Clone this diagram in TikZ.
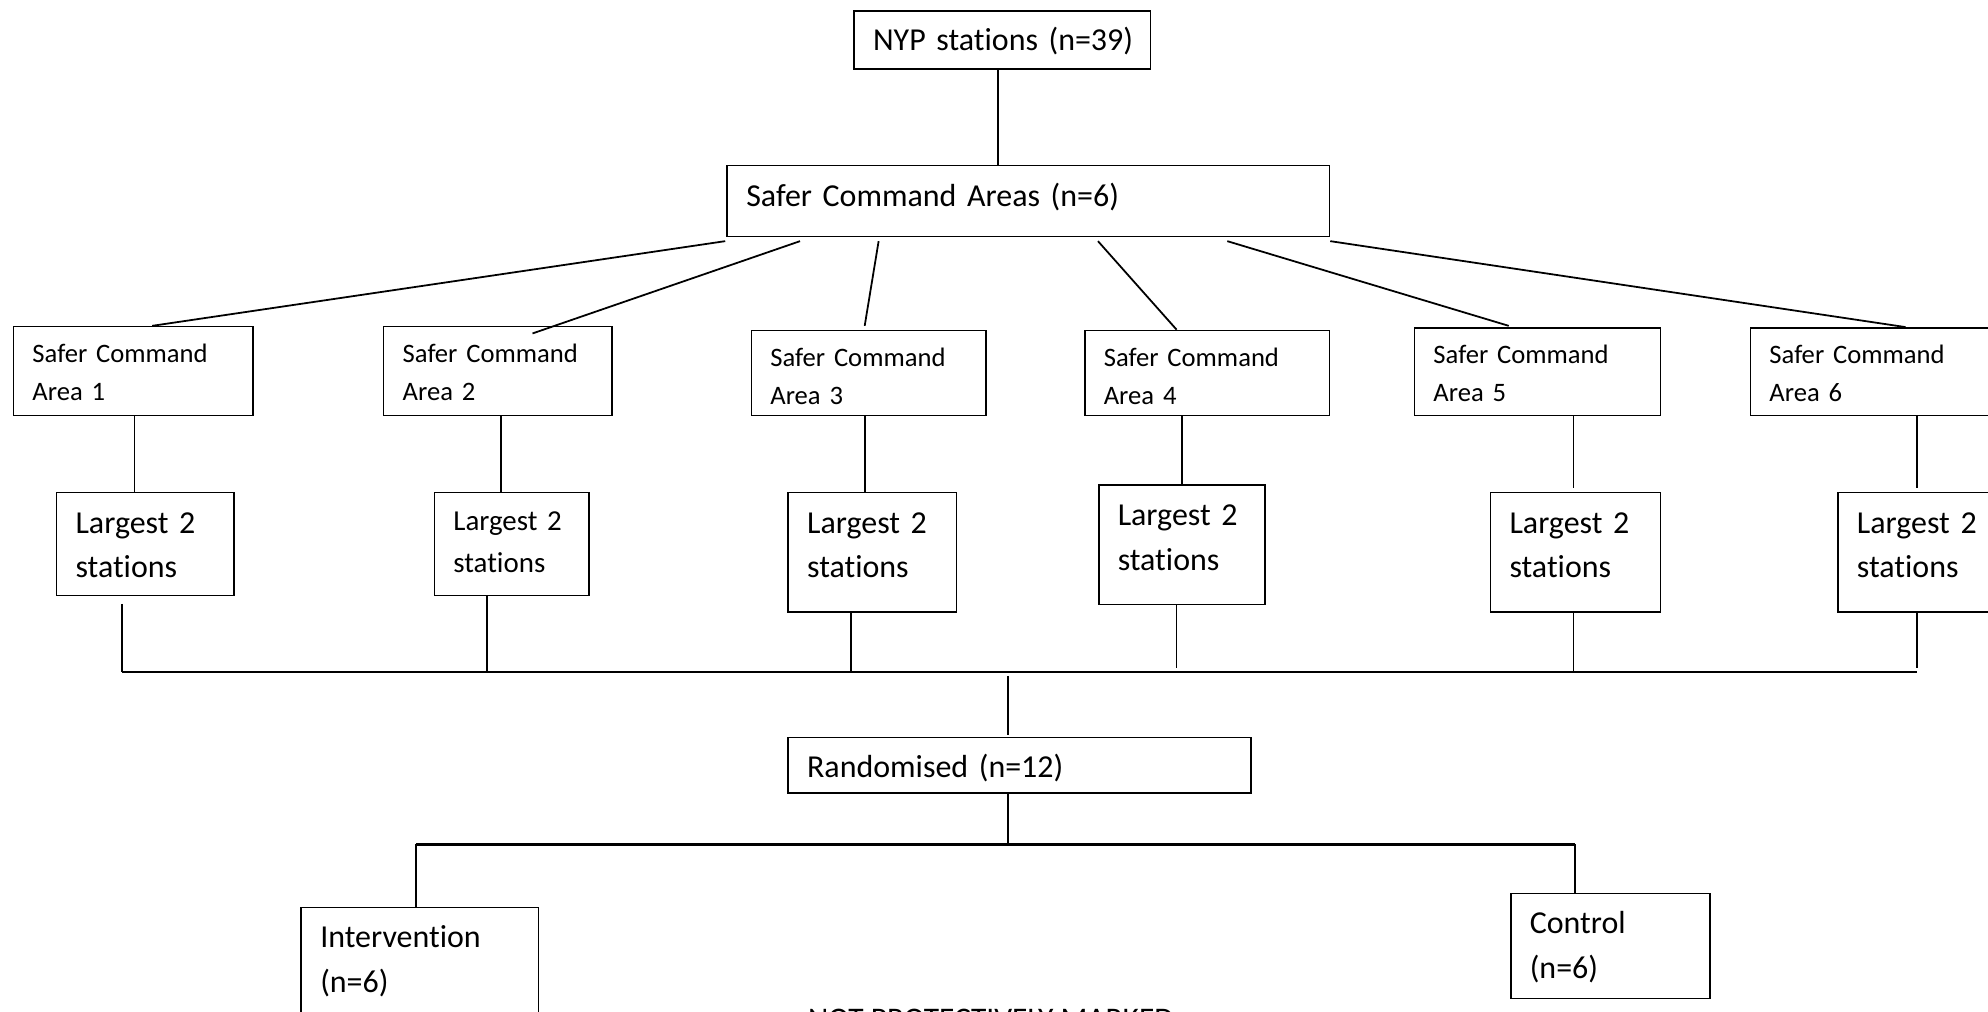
\documentclass[tikz,border=0pt]{standalone}
\usepackage{fontspec}
\setmainfont{Carlito}[Ligatures=NoCommon]
\usetikzlibrary{calc}
\tikzset{
  boxstyle/.style={draw=black, line width=0.6pt, rectangle, anchor=north west, align=left, inner xsep=7.5pt, inner ysep=0pt},
  conn/.style={draw=black, line width=0.7pt},
  bus/.style={draw=black, line width=1pt},
}
% name, x, y, w, h, font size, line skip, first baseline (pt from top), text
\newcommand\mkbox[9]{%
  \pgfmathsetmacro\mkTW{(#4-30)*0.5}%
  \pgfmathsetmacro\mkMW{#4*0.5}%
  \pgfmathsetmacro\mkMH{#5*0.5}%
  \pgfmathsetmacro\mkTD{#5*0.5-#8}%
  \node[boxstyle, font=\fontsize{#6}{#7}\selectfont, text width=\mkTW pt, minimum width=\mkMW pt, minimum height=\mkMH pt, text height=#8pt, text depth=\mkTD pt] (#1) at (#2,#3) {#9};}
\begin{document}
\begin{tikzpicture}[x=0.5pt,y=-0.5pt]
\path[use as bounding box, fill=white] (0,0) rectangle (1568,798);
% boxes
\mkbox{nyp}{673}{8}{234}{46}{12.6}{17.5}{15.8}{\mbox{NYP stations (n=39)}}
\mkbox{sca}{573}{130}{475}{56}{12.6}{17.5}{16.2}{Safer Command Areas (n=6)}
\mkbox{a1}{10}{257}{189}{70}{10.5}{15}{14.2}{Safer Command\\Area 1}
\mkbox{a2}{302}{257}{180}{70}{10.5}{15}{14.2}{Safer Command\\Area 2}
\mkbox{a3}{592}{260}{185}{67}{10.5}{15}{14.2}{Safer Command\\Area 3}
\mkbox{a4}{855}{260}{193}{67}{10.5}{15}{14.2}{Safer Command\\Area 4}
\mkbox{a5}{1115}{258}{194}{69}{10.5}{15}{14.2}{Safer Command\\Area 5}
\mkbox{a6}{1380}{258}{195}{69}{10.5}{15}{14.2}{Safer Command\\Area 6}
\mkbox{l1}{44}{388}{140}{81}{12.6}{17.5}{16}{Largest 2\\stations}
\mkbox{l2}{342}{388}{122}{81}{11.4}{16.5}{14.8}{Largest 2\\stations}
\mkbox{l3}{621}{388}{133}{94}{12.6}{17.5}{16}{Largest 2\\stations}
\mkbox{l4}{866}{382}{131}{94}{12.6}{17.5}{16}{Largest 2\\stations}
\mkbox{l5}{1175}{388}{134}{94}{12.6}{17.5}{16}{Largest 2\\stations}
\mkbox{l6}{1449}{388}{134}{94}{12.6}{17.5}{16}{Largest 2\\stations}
\mkbox{rand}{621}{581}{365}{44}{12.6}{17.5}{16}{Randomised (n=12)}
\mkbox{int}{237}{715}{187}{88}{12.6}{17.5}{16}{Intervention\\(n=6)}
\mkbox{ctl}{1191}{704}{157}{83}{12.6}{17.5}{16}{Control\\(n=6)}
\node[anchor=base west, inner sep=0pt, font=\fontsize{12.4}{15}\selectfont] (npm) at (637,812) {NOT PROTECTIVELY MARKED};
% coordinates of the buses
\coordinate (busL) at (96,530);
\coordinate (busR) at (1512,530);
\coordinate (splL) at (328,666);
\coordinate (splR) at (1242,666);
% connectors
\draw[conn] ($(nyp.south west)+(114,0)$) -- ($(sca.north west)+(214,0)$);
\draw[conn] ($(sca.south west)+(-1,3)$) -- ($(a1.north west)+(110,0)$);
\draw[conn] ($(sca.south west)+(58,3)$) -- ($(a2.north west)+(118,6)$);
\draw[conn] ($(sca.south west)+(120,3)$) -- ($(a3.north west)+(90,-3)$);
\draw[conn] ($(sca.south west)+(293,3)$) -- ($(a4.north west)+(73,0)$);
\draw[conn] ($(sca.south west)+(395,3)$) -- ($(a5.north west)+(75,-1)$);
\draw[conn] ($(sca.south east)+(0,3)$) -- ($(a6.north west)+(123,0)$);
\draw[conn] ($(a1.south west)+(96,0)$) -- ($(l1.north west)+(62,0)$);
\draw[conn] ($(a2.south west)+(93,0)$) -- ($(l2.north west)+(53,0)$);
\draw[conn] ($(a3.south west)+(90,0)$) -- ($(l3.north west)+(61,0)$);
\draw[conn] ($(a4.south west)+(77,0)$) -- ($(l4.north west)+(66,0)$);
\draw[conn] ($(a5.south west)+(126,0)$) -- ($(l5.north west)+(66,-3)$);
\draw[conn] ($(a6.south west)+(132,0)$) -- ($(l6.north west)+(63,-3)$);
\draw[conn] ($(l1.south west)+(52,6)$) -- (busL);
\draw[conn] ($(l2.south west)+(42,0)$) -- ($(busL)+(288,0)$);
\draw[conn] ($(l3.south west)+(50,0)$) -- ($(busL)+(575,0)$);
\draw[conn] ($(l4.south west)+(62,0)$) -- ($(busL)+(832,-3)$);
\draw[conn] ($(l5.south west)+(66,0)$) -- ($(busL)+(1145,0)$);
\draw[conn] ($(l6.south west)+(63,0)$) -- ($(busR)+(0,-3)$);
\draw[bus] (busL) -- (busR);
\draw[conn] ($(busL)+(699,3)$) -- ($(rand.north west)+(174,-1)$);
\draw[conn] ($(rand.south west)+(174,0)$) -- ($(splL)+(467,0)$);
\draw[bus] (splL) -- (splR);
\draw[conn] (splL) -- ($(int.north west)+(91,0)$);
\draw[conn] (splR) -- ($(ctl.north west)+(51,0)$);
\end{tikzpicture}
\end{document}
